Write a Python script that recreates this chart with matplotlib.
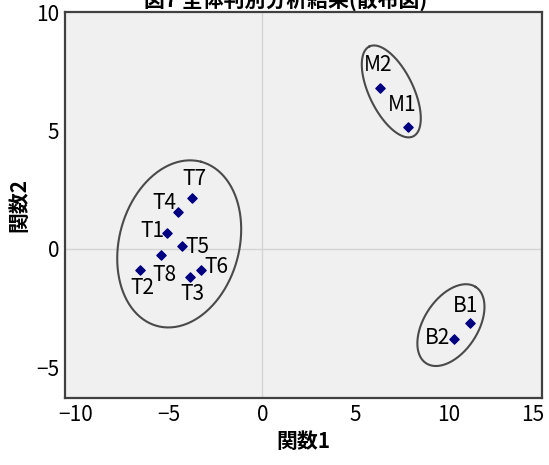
import matplotlib
matplotlib.use('Agg')
import numpy as np
import matplotlib.pyplot as plt
import matplotlib.transforms as mtransforms

plt.rcParams['font.family'] = ['Noto Sans CJK JP', 'DejaVu Sans']

# 判別得点（関数1, 関数2）
labels = ['T1', 'T2', 'T3', 'T4', 'T5', 'T6', 'T7', 'T8', 'M1', 'M2', 'B1', 'B2']
func1 = [-5.10, -6.55, -3.86, -4.51, -4.29, -3.27, -3.76, -5.42, 7.84, 6.33, 11.16, 10.31]
func2 = [0.68, -0.89, -1.19, 1.57, 0.13, -0.89, 2.16, -0.25, 5.13, 6.78, -3.14, -3.81]

# ラベルの位置（点からのずれ、ピクセル）
label_dx = [-15, 2, 2, -14, 15, 15, 2, 3, -6, -2, -5, -17]
label_dy = [2, -18, -17, 9, -1, 3, 19, -20, 22, 23, 17, 1]

# グループを囲む楕円（中心 x, y はデータ単位、長径・短径はピクセル、傾きは鉛直からの度）
groups = ['T', 'M', 'B']
ell_cx = [-4.46, 6.92, 10.12]
ell_cy = [0.21, 6.65, -3.22]
ell_a = [85, 50, 45.5]
ell_b = [60, 22, 27]
ell_tilt = [15, -26, 33]

xticks = [-10, -5, 0, 5, 10, 15]
yticks = [-5, 0, 5, 10]
xlim = (-10.6, 15.0)
ylim = (-6.3, 10.0)

fig = plt.figure(figsize=(5.49, 4.65), dpi=100)
ax = fig.add_axes([0.118, 0.144, 0.869, 0.830])
ax.set_facecolor('#f0f0f0')
ax.set_xlim(*xlim)
ax.set_ylim(*ylim)

ax.axhline(0, color='#d4d4d4', lw=1, zorder=0)
ax.axvline(0, color='#d4d4d4', lw=1, zorder=0)

# ピクセルあたりのデータ単位
sx = 0.869 * 549 / (xlim[1] - xlim[0])
sy = 0.830 * 465 / (ylim[1] - ylim[0])
t = np.linspace(0, 2 * np.pi, 200)
for i in range(len(groups)):
    th = np.radians(ell_tilt[i])
    px = ell_a[i] * np.cos(t) * np.sin(th) + ell_b[i] * np.sin(t) * np.cos(th)
    py = ell_a[i] * np.cos(t) * np.cos(th) - ell_b[i] * np.sin(t) * np.sin(th)
    ax.plot(ell_cx[i] + px / sx, ell_cy[i] + py / sy, color='#4a4a4a', lw=1.5, zorder=2)

ax.scatter(func1, func2, marker='D', s=22, color='#000080', zorder=3)

for i in range(len(labels)):
    ax.annotate(labels[i], (func1[i], func2[i]), xytext=(label_dx[i], label_dy[i]),
                textcoords='offset pixels', ha='center', va='center',
                fontsize=15, color='black', zorder=4)

ax.set_xticks(xticks)
ax.set_yticks(yticks)
ax.set_xticklabels(['\u2212' + str(-v) if v < 0 else str(v) for v in xticks], fontsize=15)
ax.set_yticklabels(['\u2212' + str(-v) if v < 0 else str(v) for v in yticks], fontsize=15)
ax.tick_params(length=0, pad=4)
last = ax.get_xticklabels()[-1]
last.set_transform(last.get_transform() + mtransforms.ScaledTranslation(-9 / 100, 0, fig.dpi_scale_trans))
for s in ax.spines.values():
    s.set_color('#404040')
    s.set_linewidth(1.6)

ax.set_xlabel('関数1', fontsize=15, fontweight='bold', labelpad=4)
ax.set_ylabel('関数2', fontsize=15, fontweight='bold', labelpad=5)

fig.text(0.52, 1.0, '図7 全体判別分析結果(散布図)', ha='center', va='center',
         fontsize=15, fontweight='bold')

plt.savefig('out.png', dpi=100)
